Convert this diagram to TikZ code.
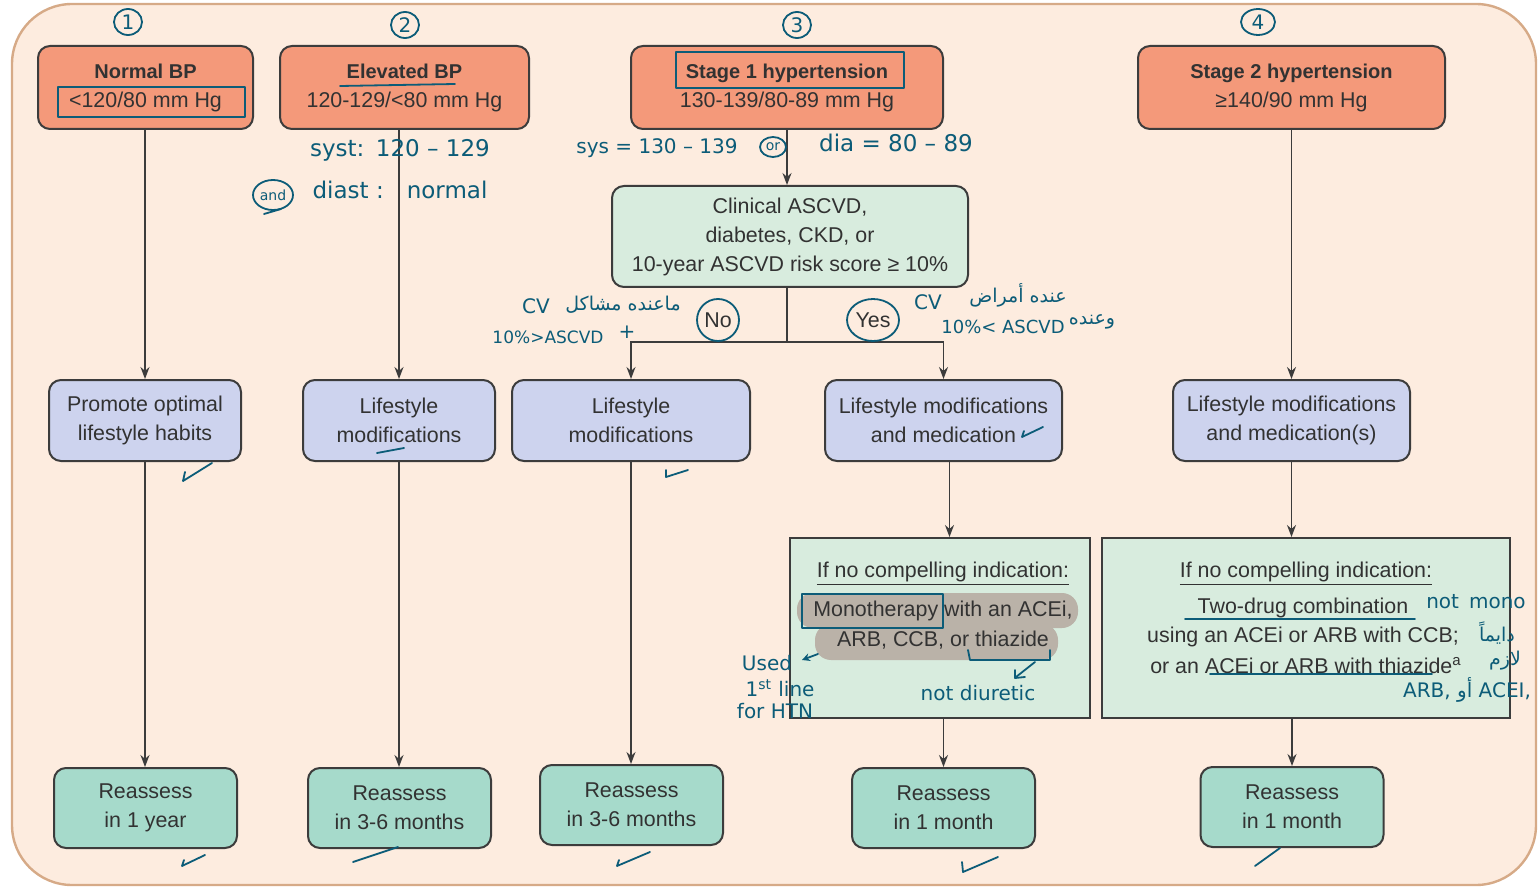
\documentclass[tikz,border=0pt]{standalone}
\usepackage{fontspec}
\setmainfont{Liberation Sans}
\newfontfamily\hand{DejaVu Sans}
\newfontfamily\arabicfont[Script=Arabic]{DejaVu Sans}
\TeXXeTstate=1
\usetikzlibrary{arrows.meta,shapes.geometric}
\definecolor{bgc}{RGB}{253,236,223}
\definecolor{bgb}{RGB}{214,170,135}
\definecolor{orng}{RGB}{244,153,122}
\definecolor{grn}{RGB}{216,236,222}
\definecolor{lav}{RGB}{205,211,238}
\definecolor{tealb}{RGB}{166,218,203}
\definecolor{bd}{RGB}{60,60,60}
\definecolor{tx}{RGB}{50,50,50}
\definecolor{annc}{RGB}{12,92,120}
\definecolor{hlc}{RGB}{186,178,168}
\newcommand{\ttl}[1]{{\fontsize{10}{14.5}\selectfont\bfseries #1}}
\begin{document}
\begin{tikzpicture}[x=0.5pt,y=-0.5pt,
 box/.style={draw=bd,line width=1pt,rounded corners=6pt,align=center,text=tx,font=\fontsize{10.7}{14.5}\selectfont,inner sep=0pt},
 topbox/.style={box,fill=orng,minimum height=41.5pt},
 lavbox/.style={box,fill=lav,minimum height=40.5pt},
 resbox/.style={box,fill=tealb,minimum height=40pt,minimum width=91.5pt},
 sqbox/.style={draw=bd,line width=1pt,fill=grn,minimum height=90pt,inner sep=0pt,text=tx,font=\fontsize{10.7}{14.5}\selectfont,text height=19.5pt,text depth=70.5pt},
 txt/.style={text=tx,font=\fontsize{10.7}{14.5}\selectfont,inner sep=0pt},
 arr/.style={draw=bd,line width=0.8pt,-{Stealth[length=6pt,width=4.5pt]}},
 ln/.style={draw=bd,line width=0.8pt},
 ann/.style={text=annc,font=\hand\fontsize{10}{11.5}\selectfont,inner sep=0pt,align=center},
 arab/.style={text=annc,font=\arabicfont\fontsize{9.5}{11.5}\selectfont,inner sep=0pt},
 anl/.style={draw=annc,line width=0.9pt,line cap=round,line join=round},
 num/.style={draw=annc,line width=0.9pt,ellipse,text=annc,font=\hand\fontsize{10}{11}\selectfont,inner sep=0pt,minimum width=14pt,minimum height=13pt},
]
\useasboundingbox (0,0) rectangle (1539,888);
\draw[draw=bgb,fill=bgc,line width=1.2pt,rounded corners=30pt] (12,4) rectangle (1536,885);

% top boxes
\node[topbox,minimum width=107.5pt] (nbp) at (145.5,87.5) {\ttl{Normal BP}\\<120/80 mm Hg};
\node[topbox,minimum width=124.5pt] (ebp) at (404.5,87.5) {\ttl{Elevated BP}\\120-129/<80 mm Hg};
\node[topbox,minimum width=156pt] (st1) at (787,87.5) {\ttl{Stage 1 hypertension}\\130-139/80-89 mm Hg};
\node[topbox,minimum width=153.5pt] (st2) at (1291.5,87.5) {\ttl{Stage 2 hypertension}\\≥140/90 mm Hg};

\node[box,fill=grn,minimum width=178pt,minimum height=50.5pt] (clin) at (790,236.5) {Clinical ASCVD,\\diabetes, CKD, or\\10-year ASCVD risk score ≥ 10\%};

% lifestyle boxes
\node[lavbox,minimum width=96pt] (lsA) at (145,420.5) {Promote optimal\\lifestyle habits};
\node[lavbox,minimum width=96pt] (lsB) at (399,420.5) {Lifestyle\\modifications};
\node[lavbox,minimum width=119pt] (lsC) at (631,420.5) {Lifestyle\\modifications};
\node[lavbox,minimum width=118.5pt] (lsD) at (943.5,420.5) {Lifestyle modifications\\and medication};
\node[lavbox,minimum width=118.5pt] (lsE) at (1291.5,420.5) {Lifestyle modifications\\and medication(s)};

% big boxes (title inside)
\node[sqbox,minimum width=150pt] (bigF) at (940,628) {\hspace*{3pt}\underline{If no compelling indication:}};
\node[sqbox,minimum width=204pt] (bigG) at (1306,628) {\underline{If no compelling indication:}};
\fill[hlc,rounded corners=8pt] (797,593) rectangle (1078,628);
\fill[hlc,rounded corners=8pt] (815,624) rectangle (1058,660);
\node[txt] (f1) at (943,611) {Monotherapy with an ACEi,};
\node[txt] (f2) at (943,640) {ARB, CCB, or thiazide};
\node[txt] (g1) at (1303,608) {Two-drug combination};
\node[txt] (g2) at (1303,637) {using an ACEi or ARB with CCB;};
\node[txt] (g3) at (1306,666) {or an ACEi or ARB with thiazide\textsuperscript{a}};

% reassess boxes
\node[resbox] (rsA) at (145.5,808) {Reassess\\in 1 year};
\node[resbox] (rsB) at (399.5,808) {Reassess\\in 3-6 months};
\node[resbox] (rsC) at (631.5,805) {Reassess\\in 3-6 months};
\node[resbox] (rsD) at (943.5,808) {Reassess\\in 1 month};
\node[resbox] (rsE) at (1292,807) {Reassess\\in 1 month};

% labels
\node[txt] (no) at (718,320) {No};
\node[txt] (yes) at (873,320) {Yes};

% connectors
\draw[arr] (nbp.south -| lsA.north) -- (lsA.north);
\draw[arr] (lsA.south) -- (lsA.south |- rsA.north);
\draw[arr] (lsB.north |- ebp.south) -- (lsB.north);
\draw[arr] (lsB.south) -- (lsB.south |- rsB.north);
\draw[arr] (st1.south) -- (st1.south |- clin.north);
\coordinate (sp) at (787,342);
\draw[ln] (clin.south -| sp) -- (sp);
\draw[arr] (sp) -| (lsC.north);
\draw[arr] (sp) -| (lsD.north);
\draw[arr] (lsC.south) -- (lsC.south |- rsC.north);
\draw[arr] ([xshift=3pt]lsD.south) -- ([xshift=3pt]lsD.south |- bigF.north);
\draw[arr] (rsD.north |- bigF.south) -- (rsD.north);
\draw[arr] (st2.south) -- (st2.south |- lsE.north);
\draw[arr] (lsE.south) -- (lsE.south |- bigG.north);
\draw[arr] (rsE.north |- bigG.south) -- (rsE.north);

% ===== handwritten annotations =====
\node[num] (n1) at (128,22) {1};
\node[num] (n2) at (405,25) {2};
\node[num] (n3) at (797,25) {3};
\node[num,minimum width=17pt] (n4) at (1258,22) {4};
\draw[anl] (58,87) rectangle (245,117);
\draw[anl] (676,52) rectangle (904,88);
\draw[anl] (802,594) rectangle (943,628);
\draw[anl] (340,86) -- (455,84);
\draw[anl] (no.center) ellipse [x radius=10.5pt, y radius=10.5pt];
\draw[anl] (yes.center) ellipse [x radius=13pt, y radius=10.5pt];

\node[ann,font=\hand\fontsize{11.5}{12}\selectfont] (syst) at (400,150) {syst:\enspace 120 – 129};
\node[ann,font=\hand\fontsize{11.5}{12}\selectfont] (diast) at (400,190) {diast :\quad normal};
\node[ann,draw=annc,ellipse,line width=0.9pt,minimum width=20pt,minimum height=15pt,font=\hand\fontsize{7}{8}\selectfont] (andn) at (273,195) {and};
\draw[anl] (264,214) -- (281,209);
\node[ann] (sys) at (657,148) {sys = 130 – 139};
\node[ann,draw=annc,ellipse,line width=0.9pt,minimum width=13pt,minimum height=10pt,font=\hand\fontsize{7}{8}\selectfont] (orn) at (773,147) {or};
\node[ann,font=\hand\fontsize{11.5}{12}\selectfont] (dia) at (896,143) {dia = 80 – 89};

\node[ann] (nocv) at (536,306) {CV};
\node[arab] (noar) at (623,305) {\beginR ماعنده مشاكل\endR};
\node[ann,font=\hand\fontsize{8.5}{10}\selectfont] (no2) at (548,337) {10\%>ASCVD};
\node[ann] (plus) at (627,332) {+};
\node[ann] (yescv) at (928,302) {CV};
\node[arab] (yesar) at (1018,295) {\beginR عنده أمراض\endR};
\node[ann,font=\hand\fontsize{9}{10}\selectfont] (yes2) at (1003,327) {10\%< ASCVD};
\node[arab] (yes3) at (1092,322) {\beginR وعنده\endR};

% checks
\draw[anl] (185,472) -- (183,481) -- (212,463);
\draw[anl] (377,453) -- (404,448);
\draw[anl] (666,470) -- (666,477) -- (688,470);
\draw[anl] (1024,431) -- (1022,437) -- (1043,427);
\draw[anl] (184,860) -- (182,866) -- (205,855);
\draw[anl] (353,862) -- (398,847);
\draw[anl] (619,860) -- (617,866) -- (650,852);
\draw[anl] (962,862) -- (963,872) -- (998,857);
\draw[anl] (1255,866) -- (1280,848);

% monotherapy box notes
\node[ann] (used) at (767,663) {Used};
\node[ann] (first) at (780,688) {1\textsuperscript{st} line};
\node[ann] (forh) at (775,711) {for HTN};
\draw[anl,-{Stealth[length=4pt,width=4pt]}] (818,654) -- (802,660);
\draw[anl] (968,650) -- (970,660) -- (1050,660) -- (1050,650);
\draw[anl] (1035,662) -- (1016,677);
\draw[anl] (1015,670) -- (1015,678) -- (1025,677);
\node[ann] (ndiu) at (978,693) {not diuretic};

% stage 2 notes
\draw[anl] (1185,619) -- (1415,619);
\draw[anl] (1210,674) -- (1432,674);
\node[ann] (nmono) at (1476,602) {not\enspace mono};
\node[arab] (ar1) at (1497,633) {\beginR دايماً\endR};
\node[arab] (ar2) at (1505,661) {\beginR لازم\endR};
\node[ann] (ar3) at (1467,690) {ARB, {\arabicfont\beginR أو\endR} ACEI,};
\end{tikzpicture}
\end{document}
